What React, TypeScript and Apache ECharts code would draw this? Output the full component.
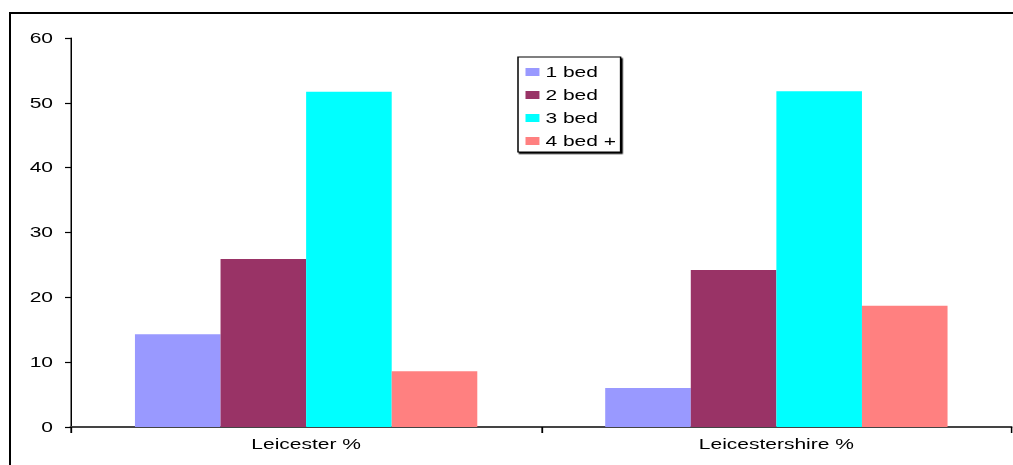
import React, { useEffect, useRef } from "react";
import * as echarts from "echarts";

const categories = ["Leicester %", "Leicestershire %"];
const seriesNames = ["1 bed", "2 bed", "3 bed", "4 bed +"];
const bed1 = [14.3, 6.0];
const bed2 = [25.9, 24.2];
const bed3 = [51.7, 51.8];
const bed4 = [8.6, 18.7];
const colors = ["#9999FF", "#993366", "#00FFFF", "#FF8080"];
const yTicks = { min: 0, max: 60, interval: 10 };

// The reference picture is stretched horizontally by 1.5; the chart is drawn
// at its native width and stretched the same way.
const STRETCH = 1.5;
const PAGE_W = 1013;
const PAGE_H = 465;

export default function App() {
  const ref = useRef<HTMLDivElement>(null);
  useEffect(() => {
    document.body.style.margin = "0";
    const chart = echarts.init(ref.current!, null, { renderer: "svg" });
    const values = [bed1, bed2, bed3, bed4];
    const font = "Liberation Sans, Arial, sans-serif";
    chart.setOption({
      animation: false,
      textStyle: { fontFamily: font },
      grid: { left: 71 / STRETCH, right: 1 / STRETCH, top: 38, bottom: 38, containLabel: false },
      legend: {
        orient: "vertical",
        left: 518 / STRETCH,
        top: 57,
        data: seriesNames,
        itemWidth: 9.3,
        itemHeight: 8,
        itemGap: 9,
        padding: [8, 3, 4, 5],
        borderColor: "#000",
        borderWidth: 1,
        backgroundColor: "#fff",
        shadowColor: "#000",
        shadowBlur: 0,
        shadowOffsetX: 1,
        shadowOffsetY: 1.5,
        icon: "rect",
        textStyle: { fontSize: 14, color: "#000", fontFamily: font, padding: [0, 0, 0, -1] },
      },
      xAxis: {
        type: "category",
        data: categories,
        axisLine: { lineStyle: { color: "#444", width: 2 } },
        axisTick: { show: true, length: 6, lineStyle: { color: "#000", width: 1.2 } },
        axisLabel: { fontSize: 14, color: "#000", margin: 10 },
      },
      yAxis: {
        type: "value",
        min: yTicks.min,
        max: yTicks.max,
        interval: yTicks.interval,
        splitLine: { show: false },
        axisLine: { show: true, lineStyle: { color: "#000", width: 1 } },
        axisTick: { show: true, length: 4, lineStyle: { color: "#000", width: 1.2 } },
        axisLabel: { fontSize: 14, color: "#000", margin: 12 },
      },
      series: seriesNames.map((name, i) => ({
        name,
        type: "bar",
        data: values[i],
        barGap: 0,
        barCategoryGap: "27.2%",
        itemStyle: { color: colors[i] },
      })),
    });
    return () => chart.dispose();
  }, []);
  return (
    <div style={{ position: "relative", width: PAGE_W, height: PAGE_H, overflow: "hidden" }}>
      <div
        style={{
          position: "absolute",
          left: 9,
          top: 12,
          width: PAGE_W,
          height: PAGE_H,
          borderLeft: "2px solid #000",
          borderTop: "2px solid #000",
          pointerEvents: "none",
        }}
      />
      <div
        ref={ref}
        style={{
          position: "absolute",
          left: 0,
          top: 0,
          width: PAGE_W / STRETCH,
          height: PAGE_H,
          transform: `scaleX(${STRETCH})`,
          transformOrigin: "0 0",
        }}
      />
    </div>
  );
}
